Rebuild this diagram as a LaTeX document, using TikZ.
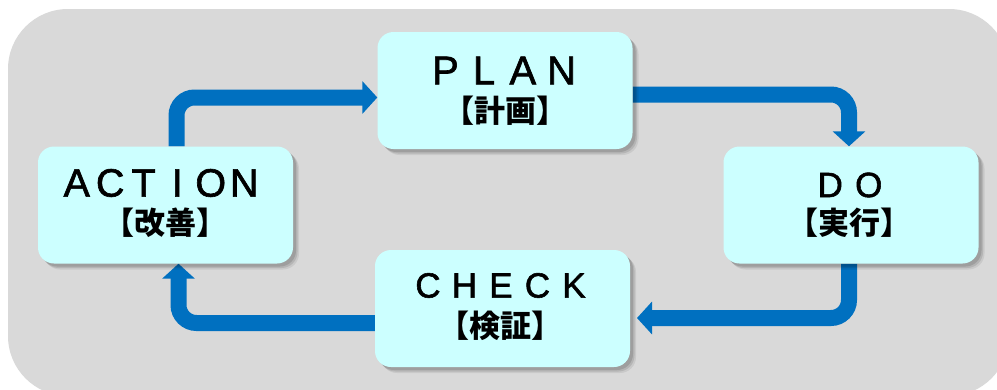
\documentclass[tikz,border=0pt]{standalone}
\usepackage{fontspec}
\setmainfont{Liberation Sans}
\newfontfamily\latfont{Liberation Sans}[FakeBold=1.6]
\newfontfamily\jpfont{Noto Sans CJK JP}
\usetikzlibrary{arrows.meta,calc}
\pgfdeclarelayer{back}
\pgfdeclarelayer{arrowlayer}
\pgfsetlayers{back,arrowlayer,main}
\definecolor{bggray}{HTML}{D9D9D9}
\definecolor{boxfill}{HTML}{CCFFFF}
\definecolor{flowblue}{HTML}{0070C0}
\newcommand\pitched[2]{\def\pitchw{#1}\pitchedloop#2\relax}
\def\pitchedloop#1{\ifx#1\relax\else\makebox[\pitchw pt][c]{#1}\expandafter\pitchedloop\fi}
\tikzset{
  box/.style={minimum width=255pt, minimum height=117pt, inner sep=0pt,
    rounded corners=16pt, fill=boxfill,
    preaction={fill=black, opacity=0.07, transform canvas={shift={(6pt,-6pt)}}},
    preaction={fill=black, opacity=0.10, transform canvas={shift={(4.5pt,-4.5pt)}}},
    preaction={fill=black, opacity=0.12, transform canvas={shift={(3pt,-3pt)}}}},
  lat/.style={inner sep=0pt, text=black},
  kan/.style={inner sep=0pt, text=black, font=\jpfont\bfseries\fontsize{31}{31}\selectfont},
  flow/.style={draw=flowblue, line width=16pt, rounded corners=18pt,
    -{Triangle[width=32pt,length=15pt]}}
}
\begin{document}
\begin{tikzpicture}[x=1pt,y=-1pt]
\useasboundingbox (0,0) rectangle (997,389);
\begin{pgfonlayer}{back}
\fill[white] (0,0) rectangle (997,389);
\begin{scope}
\clip (0,0) rectangle (997,389);
\fill[bggray, rounded corners=60pt] (8,9) rectangle (1009,396);
\end{scope}
\end{pgfonlayer}

\node[box] (plan) at (505,90.5) {};
\node[box] (action) at (165.5,205) {};
\node[box] (do) at (851,205) {};
\node[box] (check) at (502.5,308.5) {};

\node[lat, font=\latfont\fontsize{40}{40}\selectfont] (planL) at ($(plan)+(-1.5,-20)$) {\pitched{38.7}{PLAN}};
\node[kan] (planK) at ($(plan)+(0,20)$) {【計画】};
\node[lat, font=\latfont\fontsize{39.5}{40}\selectfont] (actionL) at ($(action)+(-5,-22)$) {\pitched{33.5}{ACTION}};
\node[kan] (actionK) at ($(action)+(0,17.5)$) {【改善】};
\node[lat, font=\latfont\fontsize{35}{35}\selectfont] (doL) at ($(do)+(-1.5,-20)$) {\pitched{38.5}{DO}};
\node[kan] (doK) at ($(do)+(-2,18)$) {【実行】};
\node[lat, font=\latfont\fontsize{35}{35}\selectfont] (checkL) at ($(check)+(-1.5,-23)$) {\pitched{36.5}{CHECK}};
\node[kan] (checkK) at ($(check)+(-2.5,17.5)$) {【検証】};

\coordinate (c1) at (176.5,97.5);
\coordinate (c2) at (849,94.5);
\coordinate (c3) at (849,318);
\coordinate (c3e) at (637,318);
\coordinate (c4) at (178.5,323);
\begin{pgfonlayer}{arrowlayer}
\draw[flow] (action.north -| c1) |- (plan.west |- c1);
\draw[flow] (plan.east |- c2) -| (do.north -| c2);
\draw[flow] (do.south -| c3) |- (c3e);
\draw[flow] (check.west |- c4) -| (action.south -| c4);
\end{pgfonlayer}
\end{tikzpicture}
\end{document}
